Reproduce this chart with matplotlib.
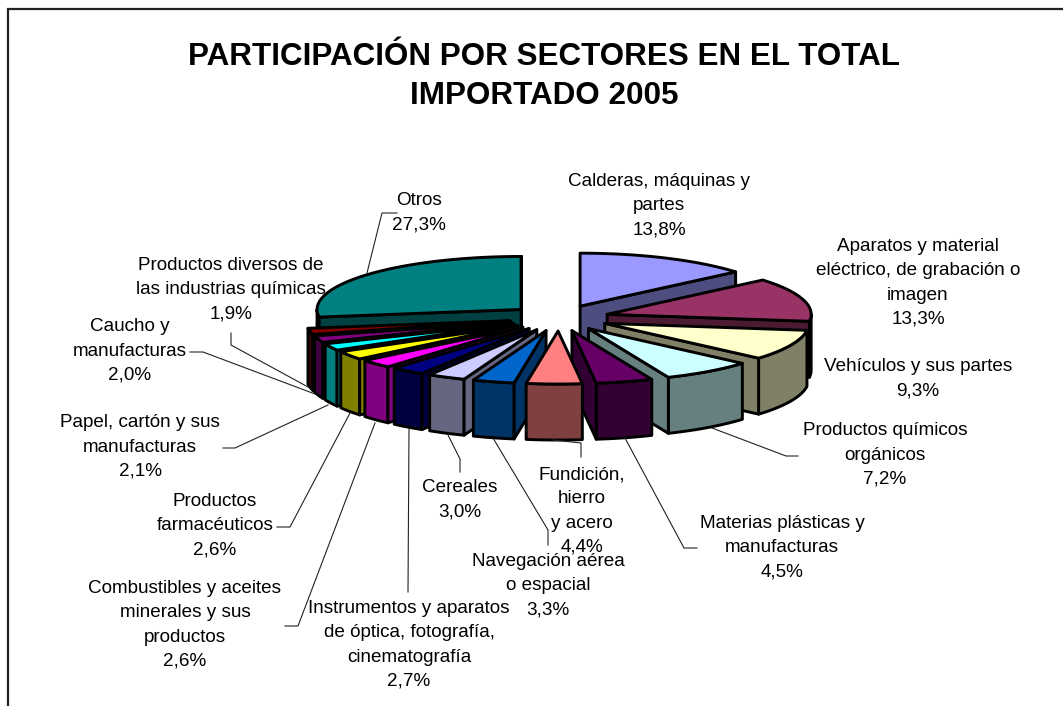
import numpy as np
import matplotlib
matplotlib.use("Agg")
import matplotlib.pyplot as plt
from matplotlib.patches import Polygon

sectors = ["Calderas, máquinas y\npartes", "Aparatos y material\neléctrico, de grabación o\nimagen",
           "Vehículos y sus partes", "Productos químicos\norgánicos", "Materias plásticas y\nmanufacturas",
           "Fundición,\nhierro\ny acero", "Navegación aérea\no espacial", "Cereales",
           "Instrumentos y aparatos\nde óptica, fotografía,\ncinematografía",
           "Combustibles y aceites\nminerales y sus\nproductos", "Productos\nfarmacéuticos",
           "Papel, cartón y sus\nmanufacturas", "Caucho y\nmanufacturas",
           "Productos diversos de\nlas industrias químicas", "Otros"]
shares = [13.8, 13.3, 9.3, 7.2, 4.5, 4.4, 3.3, 3.0, 2.7, 2.6, 2.6, 2.1, 2.0, 1.9, 27.3]
colors = ["#9999FF", "#993366", "#FFFFCC", "#CCFFFF", "#660066", "#FF8080", "#0066CC", "#CCCCFF",
          "#000080", "#FF00FF", "#FFFF00", "#00FFFF", "#800080", "#800000", "#008080"]
label_pos = [(659, 206), (918, 283), (918, 379), (885, 455), (782, 548), (582, 511), (548, 586), (460, 500),
             (409, 645), (185, 625), (215, 526), (140, 447), (130, 351), (231, 290), (419, 213)]
leaders = [None, None, None,
           [(798, 456), (786, 456), (712, 428)],
           [(697, 548), (684, 548), (625, 438)],
           [(581, 457), (581, 443), (553, 440)],
           [(548, 545), (548, 530), (493, 438)],
           [(460, 472), (460, 459), (448, 435)],
           [(408, 592), (409, 429)],
           [(285, 626), (298, 626), (375, 423)],
           [(277, 527), (290, 527), (350, 413)],
           [(190, 352), (203, 352), (315, 394)],
           [(223, 448), (235, 448), (328, 405)],
           [(231, 333), (231, 345), (308, 387)],
           [(397, 213), (382, 213), (367, 273)]]
leaders[11], leaders[12] = leaders[12], leaders[11]

CX, CY, RX, RY, DEPTH, EXPLODE = 559, 318, 204, 53, 56, 0.246
EDGE = 2.1

fig = plt.figure(figsize=(10.63, 7.06), dpi=100, facecolor="white")
ax = fig.add_axes([0, 0, 1, 1])
ax.set_xlim(0, 1063)
ax.set_ylim(706, 0)
ax.axis("off")
plt.rcParams["font.family"] = ["Liberation Sans", "DejaVu Sans"]

ax.plot([8, 8, 1063], [706, 9, 9], color="#222222", lw=1.6, solid_joinstyle="miter", zorder=0)

ax.text(544, 76.5, "PARTICIPACIÓN POR SECTORES EN EL TOTAL\nIMPORTADO 2005", ha="center", va="center",
        fontsize=22.55, fontweight="bold", color="black", linespacing=1.38, zorder=10)

vals = np.array(shares, dtype=float)
edges = np.concatenate([[0], np.cumsum(vals)]) / vals.sum() * 2 * np.pi


def darker(c):
    r, g, b = matplotlib.colors.to_rgb(c)
    return (r * 0.5, g * 0.5, b * 0.5)


def pt(a, ox, oy, r=1.0):
    return ox + r * RX * np.sin(a), oy - r * RY * np.cos(a)


slices = []
for i in range(len(vals)):
    a0, a1 = edges[i], edges[i + 1]
    mid = (a0 + a1) / 2
    ox, oy = pt(mid, CX, CY, EXPLODE)
    slices.append((oy, i, a0, a1, ox))

for k, (oy, i, a0, a1, ox) in enumerate(sorted(slices)):
    side = darker(colors[i])
    z = 2 + k
    style = dict(edgecolor="black", lw=EDGE, joinstyle="round", zorder=z)
    lo, hi = max(a0, np.pi / 2), min(a1, 3 * np.pi / 2)
    if lo < hi:
        t = np.linspace(lo, hi, 40)
        x, y = pt(t, ox, oy)
        wall = np.column_stack([np.r_[x, x[::-1]], np.r_[y, y[::-1] + DEPTH]])
        ax.add_patch(Polygon(wall, closed=True, facecolor=side, **style))
    if np.sin(a1) > 0:
        x, y = pt(a1, ox, oy)
        ax.add_patch(Polygon([(ox, oy), (x, y), (x, y + DEPTH), (ox, oy + DEPTH)], closed=True, facecolor=side, **style))
    if np.sin(a0) < 0:
        x, y = pt(a0, ox, oy)
        ax.add_patch(Polygon([(ox, oy), (x, y), (x, y + DEPTH), (ox, oy + DEPTH)], closed=True, facecolor=side, **style))
    t = np.linspace(a0, a1, 60)
    x, y = pt(t, ox, oy)
    top = np.column_stack([np.r_[ox, x], np.r_[oy, y]])
    ax.add_patch(Polygon(top, closed=True, facecolor=colors[i], **style))

for i, name in enumerate(sectors):
    pct = f"{shares[i]:.1f}%".replace(".", ",")
    ax.text(label_pos[i][0], label_pos[i][1], f"{name}\n{pct}", ha="center", va="center",
            fontsize=13.6, color="black", linespacing=1.55, zorder=40)
    if leaders[i]:
        xs, ys = zip(*leaders[i])
        ax.plot(xs, ys, color="#222222", lw=0.8, zorder=30)

fig.savefig("out.png", dpi=100, facecolor="white")
